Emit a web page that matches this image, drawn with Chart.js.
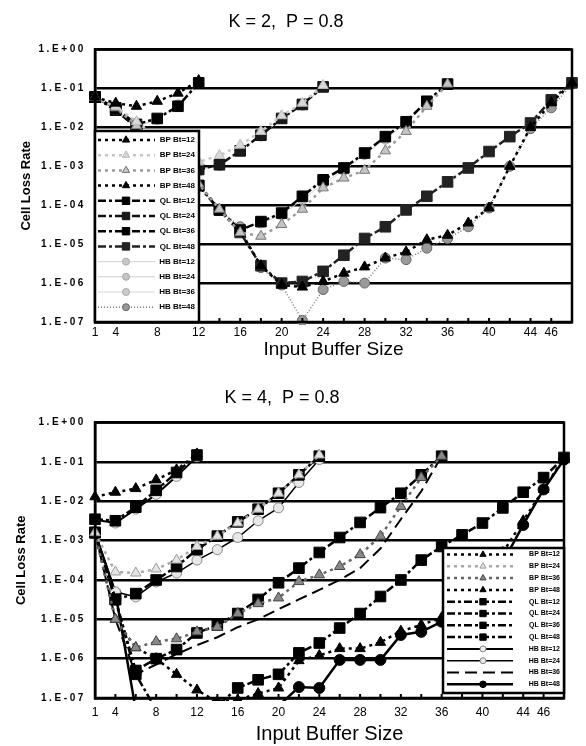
<!DOCTYPE html>
<html>
<head>
<meta charset="utf-8">
<script src="https://cdn.jsdelivr.net/npm/chart.js@4.4.1/dist/chart.umd.min.js"></script>
<style>
  html, body { margin: 0; padding: 0; background: #fff; }
  canvas { display: block; }
</style>
</head>
<body>
<canvas id="k2" width="586" height="365"></canvas>
<canvas id="k4" width="586" height="381"></canvas>
<script>
// input buffer sizes; a series with total buffer Bt stops at x = Bt
var bufferSizes = [2, 4, 6, 8, 10, 12, 14, 16, 18, 20, 22, 24, 26, 28, 30, 32, 34, 36, 38, 40, 42, 44, 46, 48];
var xLabelValues = [2, 4, 8, 12, 16, 20, 24, 28, 32, 36, 40, 44, 46];
var xLabelTexts = ['1', '4', '8', '12', '16', '20', '24', '28', '32', '36', '40', '44', '46'];
var yTickValues = [1e-7, 1e-6, 1e-5, 1e-4, 1e-3, 1e-2, 1e-1, 1];
var yTickLabels = ['1.E-07', '1.E-06', '1.E-05', '1.E-04', '1.E-03', '1.E-02', '1.E-01', '1.E+00'];
var seriesNames = ['BP Bt=12', 'BP Bt=24', 'BP Bt=36', 'BP Bt=48',
                   'QL Bt=12', 'QL Bt=24', 'QL Bt=36', 'QL Bt=48',
                   'HB Bt=12', 'HB Bt=24', 'HB Bt=36', 'HB Bt=48'];

// K = 2, P = 0.8
var k2BP12 = [6.0e-2, 4.2e-2, 3.5e-2, 4.7e-2, 7.6e-2, 1.6e-1];
var k2BP24 = [6.0e-2, 3.5e-2, 1.4e-2, 5.6e-3, 2.5e-3, 1.3e-3, 1.9e-3, 3.5e-3, 7.9e-3, 2.0e-2, 4.2e-2, 1.2e-1];
var k2BP36 = [6.0e-2, 3.2e-2, 1.1e-2, 3.5e-3, 1.3e-3, 3.5e-4, 7.9e-5, 2.0e-5, 1.6e-5, 3.2e-5, 7.9e-5, 2.8e-4,
              5.0e-4, 7.9e-4, 2.5e-3, 7.9e-3, 3.5e-2, 1.3e-1];
var k2BP48 = [6.0e-2, 3.2e-2, 1.1e-2, 3.5e-3, 1.3e-3, 3.5e-4, 7.9e-5, 2.2e-5, 2.8e-6, 8.9e-7, 7.9e-7, 1.1e-6,
              1.8e-6, 2.6e-6, 4.4e-6, 6.3e-6, 1.3e-5, 1.7e-5, 3.5e-5, 8.5e-5, 1.0e-3, 1.0e-2, 4.3e-2, 1.4e-1];
var k2QL12 = [6.0e-2, 3.2e-2, 1.2e-2, 1.7e-2, 3.5e-2, 1.4e-1];
var k2QL24 = [6.0e-2, 2.8e-2, 1.05e-2, 4.0e-3, 1.8e-3, 8.3e-4, 1.1e-3, 2.5e-3, 6.3e-3, 1.7e-2, 3.9e-2, 1.1e-1];
var k2QL36 = [6.0e-2, 2.8e-2, 1.0e-2, 3.2e-3, 1.1e-3, 3.2e-4, 7.6e-5, 2.3e-5, 3.8e-5, 6.3e-5, 1.7e-4, 4.5e-4,
              9.1e-4, 2.2e-3, 5.8e-3, 1.4e-2, 4.7e-2, 1.3e-1];
var k2QL48 = [6.0e-2, 2.8e-2, 1.0e-2, 3.2e-3, 1.1e-3, 3.2e-4, 7.6e-5, 2.0e-5, 2.8e-6, 1.0e-6, 1.1e-6, 2.0e-6,
              5.2e-6, 1.4e-5, 2.8e-5, 7.6e-5, 1.7e-4, 4.0e-4, 9.1e-4, 2.4e-3, 5.8e-3, 1.3e-2, 5.1e-2, 1.4e-1];
var k2HB12 = [6.0e-2, 3.0e-2, 1.05e-2, 1.6e-2, 3.8e-2, 1.4e-1];
var k2HB24 = [6.0e-2, 2.8e-2, 1.0e-2, 3.5e-3, 1.6e-3, 7.6e-4, 1.05e-3, 2.5e-3, 6.0e-3, 1.7e-2, 3.7e-2, 1.1e-1];
var k2HB36 = [6.0e-2, 2.8e-2, 1.0e-2, 3.2e-3, 1.1e-3, 3.2e-4, 7.9e-5, 2.5e-5, 3.5e-5, 5.6e-5, 1.4e-4, 3.5e-4,
              7.9e-4, 2.0e-3, 5.0e-3, 1.3e-2, 4.2e-2, 1.3e-1];
var k2HB48 = [6.0e-2, 2.8e-2, 1.0e-2, 3.2e-3, 1.1e-3, 3.2e-4, 7.6e-5, 2.8e-5, 2.5e-6, 8.9e-7, 1.1e-7, 6.8e-7,
              1.1e-6, 1.0e-6, 4.4e-6, 4.0e-6, 7.9e-6, 1.4e-5, 2.8e-5, 8.5e-5, 1.0e-3, 9.3e-3, 3.2e-2, 1.3e-1];

// K = 4, P = 0.8 (values under 1.E-07 run off the bottom of the plot)
var k4BP12 = [1.3e-2, 1.7e-2, 2.1e-2, 3.5e-2, 6.3e-2, 1.6e-1];
var k4BP24 = [1.6e-3, 1.6e-4, 1.5e-4, 1.9e-4, 3.2e-4, 7.1e-4, 1.3e-3, 2.8e-3, 6.3e-3, 1.6e-2, 4.7e-2, 1.5e-1];
var k4BP36 = [1.6e-3, 1.0e-5, 1.9e-6, 2.7e-6, 3.2e-6, 4.8e-6, 6.3e-6, 1.4e-5, 2.5e-5, 3.5e-5, 9.1e-5, 1.35e-4,
              2.2e-4, 4.4e-4, 1.3e-3, 7.4e-3, 4.0e-2, 1.4e-1];
var k4BP48 = [1.6e-3, 1.0e-5, 1.9e-6, 1.0e-6, 4.0e-7, 1.6e-7, 7.9e-8, 8.9e-8, 1.3e-7, 1.8e-7, 8.9e-7, 1.2e-6,
              1.8e-6, 1.8e-6, 2.6e-6, 5.0e-6, 7.2e-6, 1.1e-5, 2.5e-5, 1.0e-4, 5.0e-4, 3.2e-3, 2.0e-2, 1.3e-1];
var k4QL12 = [3.5e-3, 3.2e-3, 7.1e-3, 1.9e-2, 5.4e-2, 1.5e-1];
var k4QL24 = [1.6e-3, 3.2e-5, 4.5e-5, 1.0e-4, 2.2e-4, 5.9e-4, 1.3e-3, 3.0e-3, 6.3e-3, 1.6e-2, 4.7e-2, 1.4e-1];
var k4QL36 = [1.6e-3, 3.2e-5, 5.0e-7, 1.0e-6, 1.7e-6, 4.5e-6, 7.1e-6, 1.4e-5, 3.2e-5, 8.5e-5, 2.0e-4, 5.0e-4,
              1.2e-3, 2.9e-3, 6.9e-3, 1.6e-2, 4.7e-2, 1.4e-1];
var k4QL48 = [1.6e-3, 3.2e-5, 4.0e-7, 5.0e-8, 4.0e-8, 4.0e-8, 6.3e-8, 1.8e-7, 2.9e-7, 4.0e-7, 1.4e-6, 2.5e-6,
              6.0e-6, 1.4e-5, 3.8e-5, 1.0e-4, 3.2e-4, 7.1e-4, 1.4e-3, 2.8e-3, 6.8e-3, 1.7e-2, 4.0e-2, 1.3e-1];
var k4HB12 = [3.4e-3, 2.8e-3, 6.3e-3, 1.5e-2, 4.3e-2, 1.35e-1];
var k4HB24 = [1.6e-3, 5.0e-5, 3.7e-5, 8.9e-5, 1.5e-4, 3.2e-4, 5.9e-4, 1.2e-3, 3.2e-3, 6.8e-3, 3.0e-2, 1.15e-1];
var k4HB36 = [1.6e-3, 1.0e-5, 4.0e-7, 7.1e-7, 1.3e-6, 2.2e-6, 3.5e-6, 6.3e-6, 1.0e-5, 1.8e-5, 3.2e-5, 5.6e-5,
              1.0e-4, 2.0e-4, 6.3e-4, 3.5e-3, 1.8e-2, 1.4e-1];
var k4HB48 = [1.6e-3, 4.7e-5, 5.0e-8, 2.5e-8, 2.5e-8, 2.5e-8, 2.5e-8, 2.5e-8, 3.2e-8, 6.3e-8, 1.9e-7, 1.8e-7,
              9.3e-7, 9.3e-7, 9.3e-7, 4.0e-6, 4.8e-6, 8.7e-6, 2.5e-5, 7.9e-5, 2.8e-4, 2.5e-3, 2.0e-2, 1.15e-1];

Chart.defaults.font.family = '"Liberation Sans", Arial, sans-serif';
Chart.defaults.color = '#000';

var dotted = [3, 4], dashDot = [8, 3, 3, 3], longDash = [12, 6], solid = [];

function series(label, values, color, dash, width, shape, radius, fill, edge) {
  return {
    label: label,
    data: values.map(function (v, i) { return {x: bufferSizes[i], y: v}; }),
    borderColor: color, borderDash: dash, borderWidth: width, tension: 0, fill: false,
    pointStyle: shape, pointRadius: radius, pointBackgroundColor: fill,
    pointBorderColor: edge || color, pointBorderWidth: 1,
    clip: {left: 8, top: 8, right: 8, bottom: 3}
  };
}

// frame, inner tick marks, boxed legend inside the plot
var boxLegend = {
  id: 'boxLegend',
  afterDatasetsDraw: function (chart, args, o) {
    var ctx = chart.ctx, a = chart.chartArea, xs = chart.scales.x;
    ctx.save();
    ctx.strokeStyle = '#000';
    ctx.lineWidth = 2.5;
    ctx.strokeRect(a.left, a.top, a.right - a.left, a.bottom - a.top);
    ctx.lineWidth = 2;
    xs.ticks.forEach(function (t) {
      var px = xs.getPixelForValue(t.value);
      ctx.beginPath(); ctx.moveTo(px, a.bottom); ctx.lineTo(px, a.bottom - 4); ctx.stroke();
    });

    var x0 = o.right != null ? a.right - o.right - o.width : a.left + o.left;
    var y0 = a.bottom - o.bottom - o.height;
    ctx.fillStyle = '#fff';
    ctx.fillRect(x0, y0, o.width, o.height);
    ctx.lineWidth = 2.5;
    ctx.strokeRect(x0, y0, o.width, o.height);
    chart.data.datasets.forEach(function (ds, i) {
      var y = y0 + o.firstRow + i * o.rowHeight;
      ctx.setLineDash(ds.borderDash);
      ctx.lineWidth = ds.borderWidth;
      ctx.strokeStyle = ds.borderColor;
      ctx.beginPath(); ctx.moveTo(x0 + o.lineFrom, y); ctx.lineTo(x0 + o.lineTo, y); ctx.stroke();
      ctx.setLineDash([]);
      if (ds.pointRadius > 0) {
        ctx.fillStyle = ds.pointBackgroundColor;
        ctx.strokeStyle = ds.pointBorderColor;
        ctx.lineWidth = 1;
        Chart.helpers.drawPoint(ctx, {pointStyle: ds.pointStyle, rotation: 0,
          radius: ds.pointRadius * o.markerScale, borderWidth: 1}, x0 + o.marker, y);
      }
      ctx.fillStyle = '#000';
      ctx.font = o.font;
      ctx.textAlign = 'right';
      ctx.textBaseline = 'middle';
      ctx.fillText(ds.label, x0 + o.textRight, y);
    });
    ctx.restore();
    // the y tick labels (z: 1) come next and are spaced out like the original
    ctx.letterSpacing = o.tickSpacing;
  },
  afterDraw: function (chart) {
    chart.ctx.letterSpacing = '0px';
  }
};

function makeChart(id, title, sets, lay) {
  return new Chart(document.getElementById(id), {
    type: 'line',
    data: {datasets: sets},
    options: {
      responsive: false,
      animation: false,
      events: [],
      layout: {padding: {left: 0, right: lay.right, top: 0, bottom: 0}},
      plugins: {
        legend: {display: false},
        tooltip: {enabled: false},
        title: {display: true, text: title, color: '#000',
                font: {size: 18, weight: 'normal'}, padding: lay.titlePad},
        boxLegend: lay.legend
      },
      scales: {
        x: {
          type: 'linear', min: 2, max: 48,
          afterFit: function (s) { s.height = lay.xHeight; },
          afterBuildTicks: function (s) { s.ticks = bufferSizes.map(function (v) { return {value: v}; }); },
          ticks: {
            autoSkip: false, maxRotation: 0, padding: lay.xPad, color: '#000', font: {size: 12},
            callback: function (v) {
              var i = xLabelValues.indexOf(v);
              return i >= 0 ? xLabelTexts[i] : '';
            }
          },
          grid: {display: false, drawTicks: false},
          border: {color: '#000', width: 2.5},
          title: {display: true, text: 'Input Buffer Size', color: '#000',
                  font: {size: lay.xTitleSize}, padding: {top: 0, bottom: lay.xTitleBottom}}
        },
        y: {
          type: 'logarithmic', min: 1e-7, max: 1,
          afterFit: function (s) { s.width = 95; },
          afterBuildTicks: function (s) { s.ticks = yTickValues.map(function (v) { return {value: v}; }); },
          ticks: {
            z: 1, padding: 9, color: '#000', font: {size: 10, weight: 'bold'},
            callback: function (v, i) { return yTickLabels[i]; }
          },
          grid: {color: '#000', lineWidth: 2.5, drawTicks: false},
          border: {color: '#000', width: 2.5},
          title: {display: true, text: 'Cell Loss Rate', color: '#000',
                  font: {size: 13, weight: 'bold'}, padding: {top: lay.yTitlePad, bottom: 0}}
        }
      }
    },
    plugins: [boxLegend]
  });
}

var n = seriesNames;
var k2Sets = [
  series(n[0], k2BP12, '#000', dotted, 2.5, 'triangle', 6, '#000'),
  series(n[1], k2BP24, '#c6c6c6', dotted, 2.5, 'triangle', 6, '#d8d8d8', '#b8b8b8'),
  series(n[2], k2BP36, '#9c9c9c', dotted, 2.5, 'triangle', 6, '#c4c4c4', '#777'),
  series(n[3], k2BP48, '#000', dotted, 2.5, 'triangle', 6, '#000'),
  series(n[4], k2QL12, '#000', dashDot, 2.5, 'rect', 7.5, '#000'),
  series(n[5], k2QL24, '#111', dashDot, 2.5, 'rect', 7.5, '#1a1a1a'),
  series(n[6], k2QL36, '#000', dashDot, 2.5, 'rect', 7.5, '#000'),
  series(n[7], k2QL48, '#222', dashDot, 2.5, 'rect', 7.5, '#222'),
  series(n[8], k2HB12, '#d2d2d2', solid, 1, 'circle', 5, '#c8c8c8', '#aaa'),
  series(n[9], k2HB24, '#cfcfcf', solid, 1, 'circle', 5, '#c4c4c4', '#a8a8a8'),
  series(n[10], k2HB36, '#d6d6d6', solid, 1, 'circle', 5, '#cacaca', '#aaa'),
  series(n[11], k2HB48, '#7a7a7a', [1, 2], 1.5, 'circle', 5, '#999', '#666')
];

var k4Sets = [
  series(n[0], k4BP12, '#000', dotted, 2.5, 'triangle', 6, '#000'),
  series(n[1], k4BP24, '#a8a8a8', dotted, 2.5, 'triangle', 6, '#e4e4e4', '#999'),
  series(n[2], k4BP36, '#666', dotted, 2.5, 'triangle', 6, '#888', '#444'),
  series(n[3], k4BP48, '#000', dotted, 2.5, 'triangle', 6, '#000'),
  series(n[4], k4QL12, '#000', dashDot, 2.5, 'rect', 7.5, '#000'),
  series(n[5], k4QL24, '#000', dashDot, 2.5, 'rect', 7.5, '#000'),
  series(n[6], k4QL36, '#000', dashDot, 2.5, 'rect', 7.5, '#000'),
  series(n[7], k4QL48, '#000', dashDot, 2.5, 'rect', 7.5, '#000'),
  series(n[8], k4HB12, '#000', solid, 2, 'circle', 5, '#eee', '#888'),
  series(n[9], k4HB24, '#000', solid, 1.5, 'circle', 5, '#e8e8e8', '#888'),
  series(n[10], k4HB36, '#000', longDash, 2, 'circle', 0, '#000'),
  series(n[11], k4HB48, '#000', solid, 2.5, 'circle', 5.5, '#000')
];

makeChart('k2', 'K = 2,  P = 0.8', k2Sets, {
  right: 14, xHeight: 43, xPad: 3, xTitleSize: 19, xTitleBottom: 4, yTitlePad: 19,
  titlePad: {top: 11, bottom: 17},
  legend: {left: 0, bottom: 0, width: 104, height: 191, firstRow: 9, rowHeight: 15.2,
           lineFrom: 3, lineTo: 60, marker: 31, textRight: 100, markerScale: 0.7,
           font: 'bold 8px "Liberation Sans", Arial, sans-serif', tickSpacing: '2.6px'}
});

makeChart('k4', 'K = 4,  P = 0.8', k4Sets, {
  right: 22, xHeight: 48, xPad: 7, xTitleSize: 20, xTitleBottom: 0, yTitlePad: 14,
  titlePad: {top: 22, bottom: 14},
  legend: {right: 0, bottom: 5, width: 121, height: 145, firstRow: 6.5, rowHeight: 11.8,
           lineFrom: 4, lineTo: 70, marker: 40, textRight: 117, markerScale: 0.6,
           font: 'bold 7px "Liberation Sans", Arial, sans-serif', tickSpacing: '2.6px'}
});
</script>
</body>
</html>
